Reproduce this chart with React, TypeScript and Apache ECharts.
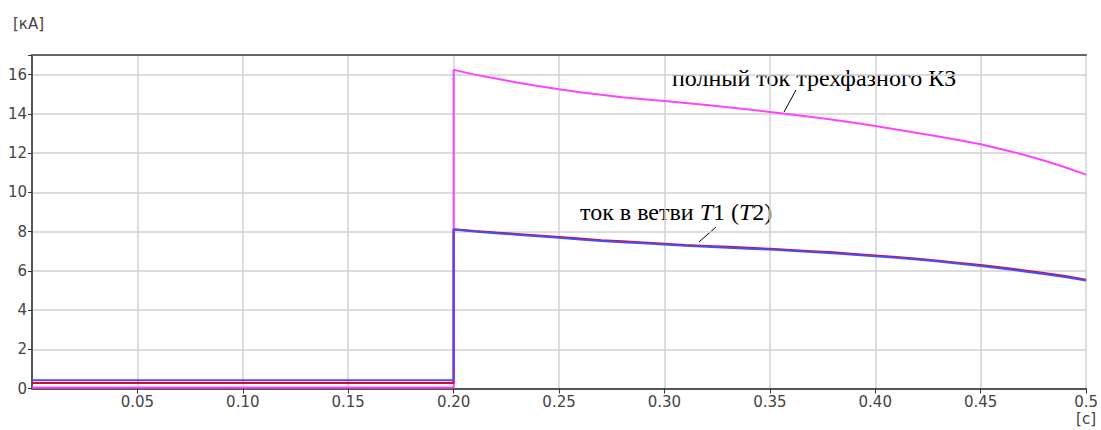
import React, { useEffect, useRef } from "react";
import * as echarts from "echarts";

// Pre-fault interval (steady-state currents), kA
const preTimes = [0, 0.2];
const preTotal = [0.05, 0.05];
const preBranchRed = [0.28, 0.28];
const preBranchBlue = [0.42, 0.42];

// Fault interval, s
const faultTimes = [
  0.2, 0.21, 0.22, 0.23, 0.24, 0.25, 0.26, 0.27, 0.28, 0.29, 0.3,
  0.31, 0.32, 0.33, 0.34, 0.35, 0.36, 0.37, 0.38, 0.39, 0.4,
  0.41, 0.42, 0.43, 0.44, 0.45, 0.46, 0.47, 0.48, 0.49, 0.5,
];
// полный ток трехфазного КЗ, kA
const totalCurrent = [
  16.25, 16.0, 15.8, 15.6, 15.42, 15.25, 15.1, 14.97, 14.85, 14.75, 14.65,
  14.55, 14.45, 14.34, 14.22, 14.1, 13.97, 13.84, 13.7, 13.55, 13.38,
  13.2, 13.02, 12.84, 12.65, 12.45, 12.2, 11.93, 11.62, 11.28, 10.9,
];
// ток в ветви T1, kA
const branchRed = [
  8.12, 8.03, 7.95, 7.88, 7.8, 7.72, 7.64, 7.56, 7.5, 7.44, 7.38,
  7.32, 7.27, 7.22, 7.17, 7.12, 7.06, 7.0, 6.94, 6.86, 6.78,
  6.7, 6.61, 6.51, 6.4, 6.29, 6.17, 6.03, 5.89, 5.73, 5.55,
];
// ток в ветви T2, kA
const branchBlue = [
  8.1, 8.0, 7.92, 7.84, 7.76, 7.68, 7.6, 7.52, 7.46, 7.4, 7.34,
  7.28, 7.23, 7.18, 7.13, 7.08, 7.02, 6.96, 6.9, 6.82, 6.74,
  6.66, 6.57, 6.47, 6.36, 6.24, 6.12, 5.98, 5.84, 5.68, 5.5,
];

const xTickValues = [0.05, 0.1, 0.15, 0.2, 0.25, 0.3, 0.35, 0.4, 0.45, 0.5];
const yTickValues = [0, 2, 4, 6, 8, 10, 12, 14, 16];

function buildSeries(pre: number[], fault: number[]) {
  const pts: number[][] = [];
  preTimes.forEach((t, i) => pts.push([t, pre[i]]));
  faultTimes.forEach((t, i) => pts.push([t, fault[i]]));
  return pts;
}

export default function App() {
  const ref = useRef<HTMLDivElement>(null);
  useEffect(() => {
    if (!ref.current) return;
    const chart = echarts.init(ref.current, null, { renderer: "svg" });
    const labelFont = "DejaVu Sans, Verdana, sans-serif";
    const serif = "Liberation Serif, Times New Roman, serif";
    chart.setOption({
      animation: false,
      backgroundColor: "#ffffff",
      grid: { left: 32, right: 7, top: 55, bottom: 41.5, containLabel: false },
      xAxis: [
        {
          type: "value",
          min: 0,
          max: 0.5,
          interval: 0.05,
          axisLine: { show: true, lineStyle: { color: "#555", width: 2 } },
          axisTick: { show: true, length: 5, lineStyle: { color: "#333" } },
          axisLabel: {
            showMinLabel: false,
            margin: 6,
            color: "#444",
            fontSize: 15,
            fontFamily: labelFont,
            formatter: (v: number) => {
              const match = xTickValues.find((t) => Math.abs(t - v) < 1e-9);
              if (match === undefined) return "";
              return match === 0.5 ? "0.5" : match.toFixed(2);
            },
          },
          splitLine: { show: true, lineStyle: { color: "#d2d2d2", width: 1.5 } },
        },
        {
          type: "value",
          position: "top",
          min: 0,
          max: 0.5,
          axisLine: { show: true, onZero: false, lineStyle: { color: "#666", width: 2 } },
          axisTick: { show: false },
          axisLabel: { show: false },
          splitLine: { show: false },
        },
      ],
      yAxis: {
        type: "value",
        min: 0,
        max: 17,
        interval: 2,
        axisLine: { show: true, lineStyle: { color: "#555", width: 2 } },
        axisTick: { show: true, length: 4, lineStyle: { color: "#333" } },
        axisLabel: {
          margin: 5,
          color: "#444",
          fontSize: 15,
          fontFamily: labelFont,
          formatter: (v: number) => (yTickValues.includes(v) ? String(v) : ""),
        },
        splitLine: { show: true, lineStyle: { color: "#d2d2d2", width: 1.5 } },
      },
      series: [
        {
          type: "line",
          name: "total",
          xAxisIndex: 0,
          showSymbol: false,
          data: buildSeries(preTotal, totalCurrent),
          lineStyle: { color: "#ff44ff", width: 2 },
          itemStyle: { color: "#ff44ff" },
          z: 3,
        },
        {
          type: "line",
          name: "T1",
          xAxisIndex: 0,
          showSymbol: false,
          data: buildSeries(preBranchRed, branchRed),
          lineStyle: { color: "#d0102a", width: 2 },
          itemStyle: { color: "#d0102a" },
          z: 4,
        },
        {
          type: "line",
          name: "T2",
          xAxisIndex: 0,
          showSymbol: false,
          data: buildSeries(preBranchBlue, branchBlue),
          lineStyle: { color: "#4a4aff", width: 2 },
          itemStyle: { color: "#4a4aff" },
          z: 5,
        },
      ],
      graphic: [
        {
          type: "text",
          x: 13,
          y: 24,
          style: {
            text: "[кА]",
            fill: "#444",
            font: "15px DejaVu Sans, Verdana, sans-serif",
            verticalAlign: "middle",
          },
        },
        {
          type: "text",
          x: 1096,
          y: 419,
          style: {
            text: "[c]",
            fill: "#444",
            font: "15px DejaVu Sans, Verdana, sans-serif",
            align: "right",
            verticalAlign: "middle",
          },
        },
        {
          type: "text",
          x: 672,
          y: 78,
          style: {
            text: "полный ток трехфазного КЗ",
            fill: "#000",
            font: "24px " + serif,
            verticalAlign: "middle",
          },
        },
        {
          type: "line",
          shape: { x1: 796, y1: 90, x2: 784, y2: 112 },
          style: { stroke: "#000", lineWidth: 1 },
        },
        {
          type: "text",
          x: 580,
          y: 212,
          style: {
            text: "ток в ветви {i|T}1 ({i|T}2)",
            fill: "#000",
            font: "24px " + serif,
            verticalAlign: "middle",
            rich: {
              i: {
                fontStyle: "italic",
                fontSize: 24,
                fontFamily: serif,
                fill: "#000",
              },
            },
          },
        },
        {
          type: "line",
          shape: { x1: 716, y1: 227, x2: 699, y2: 242 },
          style: { stroke: "#000", lineWidth: 1 },
        },
      ],
    });
    return () => chart.dispose();
  }, []);
  return (
    <div
      ref={ref}
      style={{ position: "absolute", left: 0, top: 0, width: 1101, height: 430 }}
    />
  );
}
